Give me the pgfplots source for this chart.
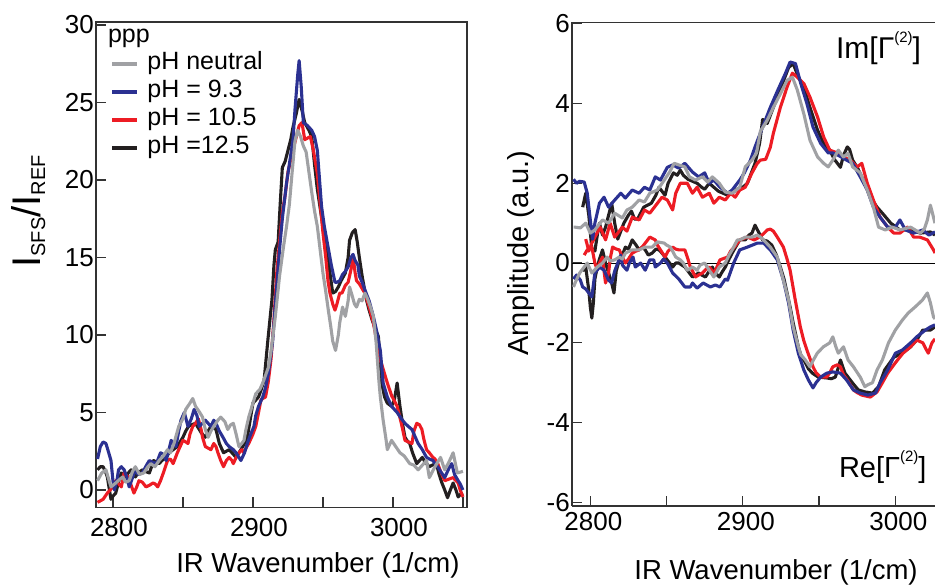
\documentclass[border=0pt]{standalone}
\usepackage{fontspec}
\setmainfont{Liberation Sans}
\usepackage{pgfplots}
\pgfplotsset{compat=1.18}
\definecolor{cgrey}{HTML}{A0A1A4}
\definecolor{cblue}{HTML}{2B3192}
\definecolor{cred}{HTML}{ED1C24}
\definecolor{cblack}{HTML}{231F20}
\pgfplotsset{
  base/.style={scale only axis,
    axis line style={line width=1.3pt, draw=black!80},
    tick style={line width=1.2pt, draw=black!80},
    major tick length=10pt, minor tick length=10pt,
    tick align=inside, tick pos=left,
    ticklabel style={font=\fontsize{26}{26}\selectfont},
    /pgf/number format/assume math mode=true,
    label style={font=\fontsize{27.5}{27.5}\selectfont},
    clip=true},
  dat/.style={line width=3.1pt, line join=round, forget plot},
}
\begin{document}
\begin{tikzpicture}[x=1pt,y=1pt]
\useasboundingbox (0,0) rectangle (935,585);
% ---------------- left panel ----------------
\begin{axis}[base,
  at={(96pt,77.5pt)}, anchor=south west,
  width=371pt, height=485.5pt,
  xmin=2787.9, xmax=3052.9, ymin=-1.13, ymax=30.19,
  xtick={2800,2900,3000}, xticklabels={2800,2900,3000},
  minor xtick={2850,2950,3050},
  ytick={0,5,10,15,20,25,30}, yticklabels={0,5,10,15,20,25,30},
  xticklabel style={yshift=-7pt, xshift=6pt},
  yticklabel style={inner sep=2pt},
  xlabel={IR Wavenumber (1/cm)},
  xlabel style={at={(rel axis cs:0.598,-0.12)}, anchor=center},
  ylabel={I\raisebox{-5pt}{\fontsize{20}{20}\selectfont SFS}/I\raisebox{-5pt}{\fontsize{20}{20}\selectfont REF}},
  ylabel style={font=\fontsize{40}{40}\selectfont, at={(rel axis cs:-0.183,0.61)}, anchor=center},
  legend style={draw=none, fill=none, at={(rel axis cs:0.029,0.945)}, anchor=north west,
    font=\fontsize{25}{25}\selectfont, row sep=2pt,
    nodes={inner sep=1pt, text height=18pt, text depth=6pt},
    /tikz/every odd column/.append style={column sep=7pt}},
  legend cell align=left,
  legend image code/.code={\draw[#1, line width=4.5pt] (0pt,0pt) -- (25pt,0pt);},
]
\addplot[dat, cblack] coordinates {
(2789,1.3) (2791,1.5) (2793,1.5) (2795,1.1) (2796,0.84) (2797.5,0.0) (2798.6,-0.6) (2800,-0.4) (2802,-0.2) (2804,0.5) (2806,1.1) (2808,1.0) (2809,0.84) (2811,1.1) (2813,1.3) (2815,1.0) (2816,0.84) (2818,1.1) (2821,1.3) (2823,1.2) (2826,1.1) (2828,1.6) (2829,1.9) (2831,1.8) (2833,1.7) (2835,1.9) (2838,2.1) (2840,2.4) (2843,2.6) (2846,2.8) (2848,3.1) (2850,3.4) (2852,3.8) (2854,4.1) (2856,4.2) (2859,4.3) (2861,4.0) (2863,3.7) (2866,3.4) (2868,3.8) (2870,4.1) (2872,4.0) (2873.6,3.9) (2876,3.0) (2879,2.4) (2881,2.5) (2883,2.6) (2886,2.3) (2888,2.1) (2890,2.4) (2891.4,2.6) (2894,3.0) (2896,3.4) (2898,4.5) (2900,5.6) (2902,5.8) (2904,6.0) (2906,6.5) (2908,7.1) (2910.7,9.7) (2913.6,12.3) (2915,14.5) (2916,15.5) (2918,16.0) (2919.5,18.5) (2921,20.8) (2923,21.2) (2925,21.9) (2927,22.6) (2928.6,23.4) (2931,24.3) (2933,25.2) (2935,24.5) (2937,23.7) (2940,23.2) (2942,22.8) (2944,21.0) (2946,19.4) (2948,18.2) (2950,17.0) (2953,15.7) (2955,14.0) (2957,12.7) (2959,12.8) (2961,13.1) (2963,13.5) (2966,14.0) (2968,15.0) (2969,16.1) (2971,16.6) (2973,16.8) (2974.5,16.0) (2976,15.0) (2978,13.8) (2981,12.3) (2983,11.6) (2985,11.0) (2987,10.5) (2989.6,9.9) (2991,8.2) (2992,6.9) (2994,6.0) (2996,5.6) (2999,5.4) (3001,5.8) (3003,6.9) (3005,5.4) (3007,4.2) (3008.6,3.4) (3010,3.2) (3012,3.0) (3014,2.4) (3017,1.7) (3019,1.9) (3021,2.1) (3023,1.8) (3026,1.5) (3028,1.6) (3031,1.7) (3033,1.0) (3035,0.45) (3037,0.0) (3039,-0.5) (3041,0.0) (3043,0.45) (3045,0.0) (3046.6,-0.45) (3048,-0.3) (3050,-0.2)
};
\addplot[dat, cred] coordinates {
(2789,-0.8) (2791,-0.7) (2793,-0.6) (2796,-0.2) (2798,0.0) (2800,0.2) (2802,0.6) (2804,0.4) (2806,0.2) (2808,1.1) (2810,0.9) (2811.6,0.84) (2813,0.3) (2815,-0.2) (2817,0.2) (2818.6,0.6) (2821,0.5) (2823.6,0.2) (2826,0.3) (2828.6,0.45) (2830,0.4) (2832,0.2) (2834,0.6) (2836,1.1) (2839,1.9) (2841,2.0) (2843,1.7) (2846,2.4) (2848,2.8) (2850,3.2) (2852,3.1) (2853.6,3.0) (2855,3.6) (2857,4.1) (2859,4.3) (2861,4.6) (2863,3.9) (2864,3.4) (2866,2.8) (2868,2.7) (2870,2.6) (2872,3.0) (2873.6,2.8) (2875,2.4) (2877,1.9) (2879,1.5) (2881,1.9) (2883,2.1) (2885,1.9) (2886,1.7) (2888,2.1) (2890,2.4) (2892,2.6) (2893.6,2.4) (2895,2.7) (2897,3.0) (2900,3.6) (2902,4.1) (2904,5.0) (2905.7,5.8) (2907,5.9) (2909,6.0) (2911,7.0) (2913,8.5) (2915,11.0) (2917,14.0) (2919,16.0) (2921,17.9) (2923,19.0) (2925,20.5) (2928,21.7) (2931,22.8) (2933,23.5) (2935,23.7) (2937,22.6) (2939,22.7) (2941,22.8) (2943,22.0) (2946,20.4) (2948,18.5) (2950,16.6) (2952,15.0) (2953.6,13.5) (2955,12.7) (2957,12.0) (2958.6,11.6) (2960,12.0) (2962,12.7) (2963.6,12.7) (2966,13.2) (2968,13.4) (2970,14.2) (2971.6,15.0) (2973,14.0) (2974,13.5) (2976,13.3) (2978.6,12.9) (2980,12.7) (2983,11.8) (2986,10.8) (2988,9.8) (2991,8.4) (2993,7.8) (2996,6.9) (2999,6.1) (3003,5.4) (3006,4.3) (3008.6,3.2) (3011,3.1) (3013.6,3.0) (3015,3.8) (3017,4.3) (3019,4.2) (3020.7,3.9) (3022,3.3) (3024,2.6) (3026,2.4) (3028.6,2.1) (3030,2.0) (3032,1.7) (3034,1.2) (3037,0.6) (3040,0.7) (3043,0.8) (3045,0.6) (3046.6,0.45) (3048,0.0) (3050,-0.45)
};
\addplot[dat, cblue] coordinates {
(2789,2.0) (2791,2.8) (2793,3.1) (2795,3.0) (2797,2.4) (2798.6,1.9) (2800,0.6) (2801,0.0) (2803,0.7) (2804,1.3) (2806,1.5) (2808,1.3) (2810,0.8) (2811.6,0.2) (2814,0.8) (2816,1.3) (2818,1.0) (2821,1.1) (2824,1.6) (2826,1.9) (2828,1.8) (2831,1.7) (2834,2.4) (2836,2.3) (2838,1.9) (2840,2.6) (2841.6,3.2) (2843,3.0) (2845,2.8) (2847,3.8) (2848.6,4.5) (2851,5.0) (2853.6,4.1) (2856,4.6) (2858,5.2) (2860,4.8) (2861.6,4.1) (2864,4.3) (2866,4.5) (2868,4.3) (2870,4.1) (2872,4.5) (2873.6,4.3) (2876,3.8) (2878.6,3.4) (2881,3.0) (2883,2.8) (2886,2.6) (2888,2.4) (2890,2.1) (2891.4,1.9) (2894,2.4) (2896,3.0) (2898,3.5) (2900.7,4.1) (2902,4.8) (2904,5.4) (2907,6.0) (2909,6.6) (2911,7.5) (2914,9.5) (2916,12.0) (2919,15.5) (2921,17.5) (2924,19.8) (2926,21.0) (2928.6,22.6) (2930,24.5) (2932,26.8) (2933,27.7) (2934.5,26.0) (2936,23.7) (2939,23.5) (2942,23.2) (2944,22.8) (2946,21.9) (2948,19.5) (2949,18.3) (2951,17.0) (2953.6,15.7) (2956,14.5) (2958.6,13.4) (2960,13.4) (2962,13.5) (2964,13.9) (2966,14.1) (2968,14.4) (2970,15.0) (2971.5,15.2) (2973,14.8) (2975,14.5) (2976,13.8) (2978,13.4) (2980,12.9) (2983,12.2) (2986,11.2) (2988,10.4) (2991,9.0) (2993,6.9) (2996,6.0) (2999,5.4) (3003,5.0) (3006,4.6) (3008.6,4.3) (3011,4.1) (3013.6,3.9) (3016,3.4) (3018,3.0) (3021,2.6) (3024,2.1) (3026,2.0) (3028.6,1.9) (3030,1.7) (3032,1.5) (3034,1.2) (3037,0.8) (3040,1.4) (3042,1.7) (3044,1.0) (3046.6,0.6) (3048,0.4) (3050,0.0)
};
\addplot[dat, cgrey] coordinates {
(2789,0.6) (2792,1.1) (2795,1.3) (2798.6,0.2) (2802,0.45) (2805,0.7) (2807,0.84) (2809,0.5) (2811.6,0.6) (2814,1.2) (2816,1.5) (2819,1.0) (2822,1.1) (2825,1.5) (2827,1.7) (2830,1.5) (2833,1.9) (2836,2.2) (2839,2.6) (2841,2.4) (2843.6,3.0) (2847,4.1) (2850,4.6) (2852,5.2) (2855,5.6) (2857,5.9) (2859,5.4) (2862,5.0) (2864,4.7) (2866,3.9) (2868,3.4) (2870,3.8) (2872,4.1) (2875,4.5) (2877,4.7) (2880,4.4) (2882,3.9) (2884,4.2) (2886,4.3) (2888,3.6) (2890,2.8) (2892,3.0) (2893.6,3.2) (2895,3.9) (2897,4.7) (2900,5.6) (2902,6.2) (2905,6.5) (2907,6.9) (2909,7.4) (2911,7.9) (2913,9.0) (2916,11.2) (2919,13.8) (2922,15.8) (2924,17.0) (2926,18.4) (2928,20.5) (2930,22.5) (2932,23.2) (2934,22.8) (2936,22.2) (2938,21.8) (2940,20.5) (2942,19.2) (2944,18.0) (2946,17.0) (2948,15.5) (2950,14.0) (2952,12.8) (2954,11.5) (2955.5,10.6) (2957,9.6) (2959,9.0) (2961,10.0) (2962,10.8) (2964,11.8) (2966,11.2) (2968,12.2) (2969,13.1) (2971,12.5) (2972.5,12.0) (2974,11.8) (2976,12.3) (2978,12.2) (2980,12.7) (2982,12.3) (2984,11.8) (2986,11.2) (2988,9.5) (2990,7.0) (2991,6.0) (2993,4.5) (2995,3.3) (2996,2.6) (2999,3.2) (3002,2.8) (3005,2.4) (3008,2.2) (3012,1.7) (3015,1.6) (3018,1.3) (3021,1.6) (3024,1.9) (3026,0.8) (3030,1.5) (3034,2.1) (3037,1.3) (3040,1.8) (3043,2.4) (3046,1.1) (3050,1.2)
};
\addlegendimage{cgrey}
\addlegendentry{pH neutral}
\addlegendimage{cblue}
\addlegendentry{pH = 9.3}
\addlegendimage{cred}
\addlegendentry{pH = 10.5}
\addlegendimage{cblack}
\addlegendentry{pH =12.5}
\node[anchor=base west, inner sep=0pt, font=\fontsize{25}{25}\selectfont] at (rel axis cs:0.032,0.957) {ppp};
\end{axis}
% ---------------- right panel ----------------
\begin{axis}[base,
  at={(572pt,79pt)}, anchor=south west,
  width=363pt, height=483.5pt,
  axis y line*=left, axis x line*=box,
  tick pos=left,
  xmin=2788, xmax=3026, ymin=-6.09, ymax=6.03,
  xtick={2800,2900,3000}, xticklabels={2800,2900,3000},
  minor xtick={2850,2950},
  ytick={-6,-4,-2,0,2,4,6}, yticklabels={-6,-4,-2,0,2,4,6},
  xticklabel style={yshift=-3pt, xshift=3pt},
  yticklabel style={inner sep=2pt},
  xlabel={IR Wavenumber (1/cm)},
  xlabel style={at={(rel axis cs:0.562,-0.1365)}, anchor=center},
  ylabel={Amplitude (a.u.)},
  ylabel style={font=\fontsize{29}{29}\selectfont, at={(rel axis cs:-0.1405,0.523)}, anchor=center},
]
\addplot[line width=0.9pt, black, forget plot] coordinates {(2788,0) (3026,0)};
% Im part
\addplot[dat, cblack] coordinates {
(2795,1.4) (2797,1.75) (2799,1.2) (2801,0.35) (2803,0.3) (2805,0.8) (2806,1.0) (2808,0.7) (2810,0.9) (2812,1.2) (2814,1.5) (2816,1.0) (2818,0.6) (2820,0.8) (2822,1.0) (2825,1.2) (2827,1.3) (2829,1.1) (2831,1.1) (2835,1.4) (2840,1.5) (2843,1.7) (2845,1.9) (2849,1.7) (2851,2.0) (2854.5,2.26) (2857,2.2) (2859,2.33) (2861,2.2) (2864,2.1) (2867,2.05) (2870,2.0) (2873,1.9) (2875,1.85) (2878,2.0) (2881,1.9) (2884,1.8) (2887,1.75) (2890,1.7) (2893,1.75) (2896,1.85) (2900,1.9) (2903,2.0) (2906,2.3) (2908,2.5) (2911,3.0) (2913,3.6) (2916,3.5) (2919,3.8) (2922,4.1) (2925,4.4) (2928,4.7) (2930,4.9) (2933,5.0) (2936,4.7) (2940,4.4) (2944,3.9) (2949,3.33) (2953,3.0) (2957,2.83) (2960,2.6) (2962,2.5) (2964,2.4) (2966,2.7) (2968.5,2.91) (2970,2.85) (2972,2.58) (2975,2.4) (2979,2.08) (2983.6,1.65) (2988,1.4) (2991.5,1.25) (2997,1.0) (3003,0.83) (3010,0.83) (3016.4,0.75) (3023,0.78) (3026,0.7)
};
\addplot[dat, cred] coordinates {
(2797,0.6) (2799,0.3) (2801,0.5) (2803,0.65) (2806.5,0.9) (2810,0.58) (2813,1.0) (2816,0.65) (2821,0.9) (2824,0.8) (2827.5,1.15) (2832,1.08) (2835.5,1.33) (2839,1.25) (2844,1.5) (2847,1.65) (2850.5,1.58) (2854,1.33) (2856,1.75) (2859,2.0) (2863.6,2.0) (2867,1.75) (2870,1.9) (2873.5,1.65) (2878,1.75) (2881,1.5) (2884.6,1.65) (2888.5,1.58) (2892,1.75) (2895,1.65) (2898,1.83) (2901.6,1.9) (2906,2.26) (2909.5,2.5) (2911.5,2.58) (2915,2.6) (2918,2.9) (2920,3.25) (2924.6,3.9) (2929,4.41) (2932.5,4.76) (2935.7,4.66) (2940,4.5) (2944,4.16) (2949,3.66) (2953,3.16) (2957,2.83) (2962,2.76) (2966,2.66) (2970.5,2.58) (2975,2.41) (2978,2.5) (2981.6,2.0) (2985.6,1.58) (2990,1.15) (2995,0.9) (2999,0.75) (3003,0.75) (3008,0.9) (3012,0.65) (3016,0.65) (3021,0.58) (3025,0.33) (3026,0.25)
};
\addplot[dat, cblue] coordinates {
(2789,2.1) (2791,2.0) (2793,2.05) (2796,2.03) (2798,1.75) (2800,1.08) (2801.5,0.6) (2803,1.0) (2806,1.5) (2809,1.65) (2812,1.4) (2816,1.58) (2820,1.75) (2823,1.63) (2827.5,1.83) (2832,1.75) (2835.5,1.9) (2839,1.83) (2842.6,2.16) (2846,2.08) (2850.5,2.4) (2854,2.46) (2858,2.38) (2862,2.5) (2867,2.28) (2871,2.16) (2875,2.26) (2878,2.0) (2881,2.08) (2885,1.9) (2890,1.75) (2893,1.83) (2898,2.08) (2901,2.26) (2905,2.58) (2908,2.91) (2913,3.41) (2918,3.9) (2923,4.34) (2928,4.76) (2931,5.04) (2934.5,5.0) (2938,4.5) (2942,4.0) (2946,3.41) (2951,3.0) (2956,2.76) (2959,2.76) (2962.6,2.7) (2968,2.58) (2972,2.5) (2977,2.16) (2981.6,1.83) (2985.6,1.4) (2990,1.15) (2995,0.9) (3000,0.9) (3003,1.08) (3006.6,0.83) (3012,0.75) (3018,0.83) (3022,0.7) (3026,0.78)
};
\addplot[dat, cgrey] coordinates {
(2789,0.9) (2790,0.9) (2793.5,0.88) (2797,1.0) (2800,0.75) (2803,0.83) (2808,1.08) (2812,1.0) (2816,1.25) (2821,1.13) (2824,1.33) (2827.5,1.4) (2832,1.58) (2835.5,1.53) (2839,1.75) (2844,1.83) (2848.5,2.08) (2852,2.28) (2855,2.5) (2858,2.46) (2862,2.41) (2865,2.16) (2869,2.08) (2873.5,2.16) (2877,2.03) (2880,2.16) (2884.6,2.0) (2888.5,1.78) (2893,1.75) (2898,1.9) (2901.6,2.41) (2906,2.58) (2909,2.76) (2911.5,3.3) (2916,3.58) (2920,3.9) (2924.6,4.24) (2929,4.58) (2932.5,4.66) (2935.7,4.34) (2940,3.74) (2944,3.08) (2949,2.66) (2953,2.5) (2956,2.41) (2959,2.58) (2962.6,2.83) (2966,2.66) (2969,2.75) (2972,2.41) (2977,2.26) (2981.6,1.83) (2985.6,1.4) (2989,0.9) (2993.4,0.83) (2998,0.9) (3003,0.83) (3010,0.9) (3016.4,0.75) (3019,0.85) (3021,1.08) (3023,1.45) (3025,1.15) (3026,1.0)
};
% Re part
\addplot[dat, cblack] coordinates {
(2795,-0.2) (2797,-0.1) (2799,-0.68) (2800,-1.1) (2801,-1.38) (2802,-1.0) (2803,-0.4) (2804.6,-0.1) (2806,0.1) (2808,0.33) (2810,0.0) (2812,-0.25) (2814,-0.5) (2815.5,-0.75) (2817,-0.2) (2819,0.08) (2821,0.2) (2823,0.4) (2825,0.35) (2827.5,0.58) (2830,0.45) (2832,0.33) (2834,0.4) (2836,0.33) (2838,0.2) (2840.6,0.25) (2843,0.35) (2845,0.33) (2847,0.25) (2849,0.15) (2851,0.05) (2854,-0.1) (2856,0.0) (2858,0.0) (2860,-0.05) (2862,-0.1) (2864,-0.2) (2867,-0.35) (2869,-0.3) (2871,-0.25) (2873,-0.3) (2875.5,-0.35) (2878,-0.2) (2880,-0.1) (2882,-0.25) (2884.6,-0.35) (2886,-0.25) (2888.5,-0.1) (2891,0.1) (2893,0.25) (2896,0.45) (2898,0.58) (2901.6,0.58) (2904,0.7) (2906,0.75) (2908,0.95) (2910,0.8) (2913,0.58) (2916,0.55) (2919,0.45) (2922,0.2) (2924.6,-0.1) (2927,-0.4) (2929,-0.75) (2931,-1.1) (2933,-1.5) (2936.4,-2.1) (2938,-2.3) (2941,-2.5) (2943,-2.65) (2945.6,-2.76) (2949.5,-2.86) (2955,-2.88) (2958,-2.9) (2960.6,-2.86) (2962,-2.7) (2964,-2.43) (2965.5,-2.6) (2967,-2.76) (2971.8,-3.0) (2975.7,-3.18) (2980,-3.23) (2985,-3.26) (2989,-3.1) (2993,-2.68) (2999,-2.36) (3004.6,-2.26) (3010,-2.1) (3014,-1.93) (3018,-1.68) (3023,-1.68) (3026,-1.6)
};
\addplot[dat, cred] coordinates {
(2796,0.2) (2798,0.33) (2801,0.4) (2803,0.0) (2804.6,-0.18) (2806,0.0) (2808,0.15) (2809,-0.2) (2810,-0.5) (2812,-0.25) (2813,0.1) (2814.6,0.4) (2817,0.35) (2819,0.33) (2821,0.15) (2823,0.0) (2825,0.1) (2827.5,0.25) (2830,0.3) (2832,0.33) (2834,0.4) (2836,0.5) (2839,0.65) (2842.6,0.58) (2844,0.45) (2846,0.33) (2849,0.15) (2851,0.3) (2854,0.4) (2856,0.35) (2858,0.33) (2862,0.33) (2864,0.1) (2865.6,-0.1) (2869,-0.35) (2871,-0.3) (2873.5,-0.25) (2876,-0.15) (2878,-0.1) (2881,-0.25) (2883,-0.1) (2885,0.08) (2890,0.15) (2892,0.3) (2894.5,0.4) (2898,0.58) (2903,0.65) (2907.5,0.58) (2911,0.65) (2914,0.75) (2916,0.83) (2918,0.85) (2920,0.8) (2922.6,0.65) (2926.6,0.4) (2929,0.1) (2931,-0.18) (2934.4,-0.93) (2937.7,-1.6) (2940,-1.95) (2942,-2.18) (2946,-2.6) (2948,-2.75) (2951,-2.86) (2955,-2.86) (2957,-2.75) (2959,-2.6) (2962,-2.55) (2964,-2.6) (2966,-2.8) (2968.5,-2.93) (2972.5,-3.18) (2975,-3.25) (2978,-3.31) (2983.6,-3.36) (2988,-3.23) (2991.5,-3.0) (2995,-2.76) (3000,-2.5) (3005,-2.26) (3010,-2.1) (3014,-1.93) (3018,-2.0) (3020,-2.15) (3021.6,-2.26) (3024,-2.0) (3026,-1.9)
};
\addplot[dat, cblue] coordinates {
(2789,-0.4) (2791,-0.3) (2793.5,-0.43) (2795,-0.6) (2797,-0.65) (2799,-0.75) (2801,-0.85) (2803,-0.25) (2806,-0.1) (2809,-0.18) (2812,-0.43) (2814,-0.5) (2816,-0.2) (2818,0.0) (2820,0.2) (2821,-0.05) (2824,-0.18) (2825.6,0.0) (2828,0.15) (2829.5,-0.1) (2833,0.0) (2836,-0.18) (2839,0.08) (2841.6,0.08) (2842.6,-0.1) (2846,0.0) (2848,0.1) (2850.5,0.0) (2854,-0.25) (2858,-0.4) (2862,-0.6) (2865.6,-0.6) (2867,-0.5) (2870,-0.63) (2874,-0.5) (2878.7,-0.6) (2882,-0.55) (2885,-0.6) (2888.5,-0.4) (2890,-0.43) (2894,0.0) (2898,0.33) (2903,0.4) (2909.5,0.5) (2913.6,0.5) (2918,0.33) (2922.6,0.08) (2926.6,-0.43) (2930,-1.0) (2933,-1.68) (2936.4,-2.26) (2940,-2.68) (2943,-2.93) (2946,-3.13) (2948,-3.0) (2951,-2.86) (2955,-2.76) (2959,-2.73) (2964,-2.76) (2968,-2.93) (2972.5,-3.18) (2977,-3.26) (2982,-3.31) (2987,-3.26) (2990,-3.0) (2995,-2.68) (3000,-2.26) (3004.6,-2.18) (3010,-2.0) (3014,-1.85) (3019.7,-1.68) (3023,-1.6) (3026,-1.55)
};
\addplot[dat, cgrey] coordinates {
(2789,-0.6) (2790,-0.5) (2793,-0.25) (2796,-0.1) (2798,0.0) (2801,-0.25) (2804.6,-0.1) (2808,0.0) (2811,0.15) (2813,0.05) (2816,0.08) (2819,0.15) (2821,0.1) (2823,0.25) (2827.5,0.33) (2832,0.33) (2836,0.4) (2840.6,0.4) (2844,0.53) (2848.5,0.5) (2850,0.45) (2852.5,0.4) (2856,0.15) (2859,0.08) (2861,0.0) (2863.6,-0.18) (2867,-0.1) (2870,-0.18) (2872,-0.05) (2875,0.0) (2878,-0.18) (2881,-0.35) (2884.6,-0.1) (2888.5,0.0) (2891,0.2) (2893,0.33) (2896.4,0.58) (2898,0.58) (2901.6,0.65) (2906,0.65) (2909.5,0.7) (2911.5,0.65) (2913.6,0.58) (2918,0.4) (2922.6,0.15) (2926.6,-0.43) (2930,-0.93) (2933,-1.6) (2936.4,-2.1) (2938,-2.3) (2941,-2.43) (2944,-2.6) (2946,-2.45) (2948.8,-2.26) (2952.8,-2.1) (2957,-2.0) (2959,-1.85) (2961,-2.1) (2962.6,-2.26) (2966,-2.1) (2969,-2.43) (2972.5,-2.6) (2977,-2.86) (2980,-3.1) (2982,-3.05) (2985,-3.0) (2988,-2.68) (2991.5,-2.43) (2995.5,-2.0) (3000,-1.68) (3004.6,-1.43) (3008.5,-1.25) (3013,-1.1) (3017.7,-0.93) (3021,-0.75) (3023,-1.0) (3025,-1.35) (3026,-1.4)
};
\node[anchor=west, inner sep=0pt, font=\fontsize{30}{30}\selectfont] at (rel axis cs:0.727,0.947) {Im[Γ\raisebox{0.55em}{\fontsize{15}{15}\selectfont (2)}]};
\node[anchor=west, inner sep=0pt, font=\fontsize{29}{29}\selectfont] at (rel axis cs:0.735,0.081) {Re[Γ\raisebox{0.55em}{\fontsize{15}{15}\selectfont (2)}]};
\end{axis}
\end{tikzpicture}
\end{document}
